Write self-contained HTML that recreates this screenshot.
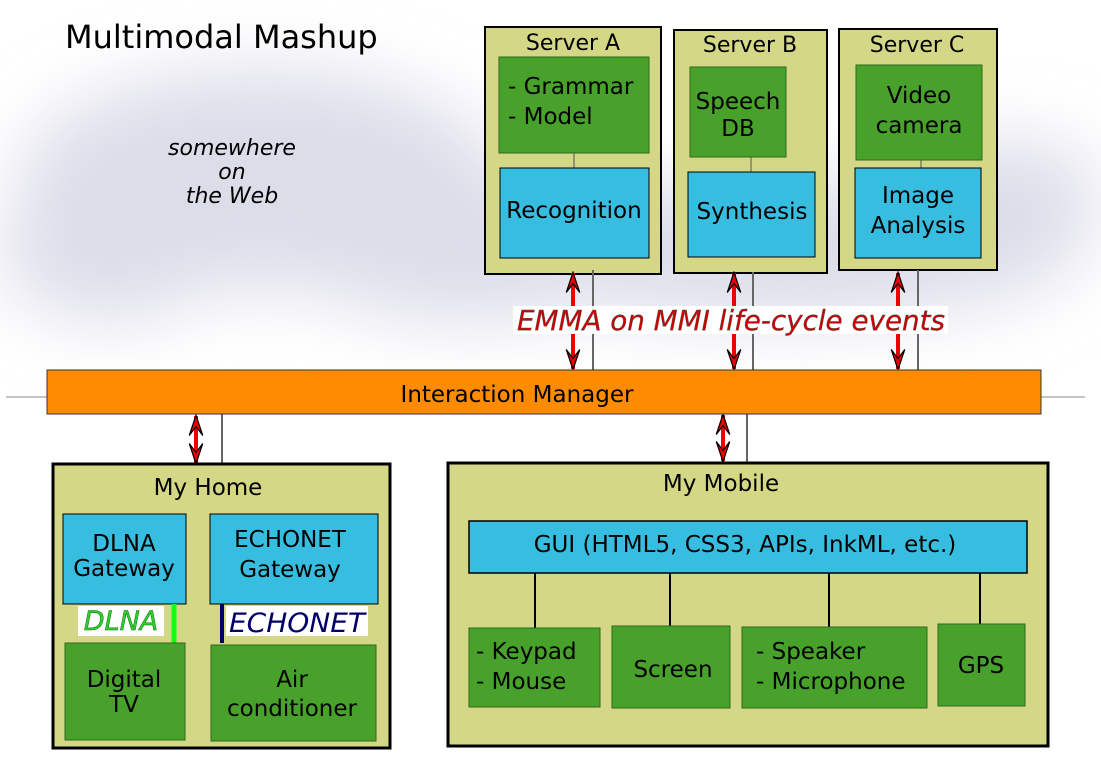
<!DOCTYPE html>
<html><head><meta charset="utf-8"><style>
html,body{margin:0;padding:0;background:#fff}
svg{display:block}
text{font-family:"DejaVu Sans","Liberation Sans",sans-serif}
</style></head><body>
<svg width="1101" height="767" viewBox="0 0 1101 767" xmlns="http://www.w3.org/2000/svg">
<defs>
<filter id="b" x="-50%" y="-50%" width="200%" height="200%"><feGaussianBlur stdDeviation="35"/></filter>
<marker id="ah" viewBox="0 0 14 10" refX="13" refY="5" markerWidth="22" markerHeight="15" orient="auto-start-reverse" markerUnits="userSpaceOnUse">
<path d="M0,0.5 L13.5,5 L0,9.5 L6,5 z" fill="#e00" stroke="#000" stroke-width="0.8" stroke-linejoin="miter"/></marker>
</defs>
<g filter="url(#b)" fill="#dcdde9">
<ellipse cx="260" cy="180" rx="240" ry="110"/>
<ellipse cx="470" cy="250" rx="180" ry="70"/>
<ellipse cx="780" cy="250" rx="300" ry="70"/>
<ellipse cx="1010" cy="200" rx="90" ry="60"/>
<ellipse cx="110" cy="250" rx="110" ry="70"/>
</g>
<text x="65" y="48" font-size="32">Multimodal Mashup</text>
<g font-size="22" font-style="italic" text-anchor="middle"><text x="232" y="155">somewhere</text><text x="232" y="179">on</text><text x="232" y="203">the Web</text></g>

<g stroke="#000" stroke-width="2" fill="#d4d785">
<rect x="485" y="27" width="176" height="247"/>
<rect x="674" y="30" width="153" height="243"/>
<rect x="839" y="29" width="158" height="241"/>
</g>
<g font-size="22" text-anchor="middle"><text x="573" y="50">Server A</text><text x="750" y="52">Server B</text><text x="917" y="52">Server C</text></g>
<g stroke="#555" stroke-width="1">
<line x1="574" y1="153" x2="574" y2="168"/><line x1="751" y1="157" x2="751" y2="172"/><line x1="921" y1="160" x2="921" y2="168"/>
</g>
<g fill="#47a12a" stroke="#2e6a1a" stroke-width="1">
<rect x="499" y="57" width="150" height="96"/><rect x="690" y="67" width="96" height="90"/><rect x="856" y="65" width="126" height="95"/>
</g>
<g fill="#37bde0" stroke="#000" stroke-width="1">
<rect x="500" y="168" width="149" height="90"/><rect x="688" y="172" width="127" height="85"/><rect x="855" y="168" width="126" height="90"/>
</g>
<g font-size="23">
<text x="508" y="94">- Grammar</text><text x="508" y="124">- Model</text>
<text x="738" y="109" text-anchor="middle">Speech</text><text x="738" y="136" text-anchor="middle">DB</text>
<text x="919" y="103" text-anchor="middle">Video</text><text x="919" y="133" text-anchor="middle">camera</text>
<text x="574" y="218" text-anchor="middle">Recognition</text>
<text x="752" y="219" text-anchor="middle">Synthesis</text>
<text x="918" y="203" text-anchor="middle">Image</text><text x="918" y="233" text-anchor="middle">Analysis</text>
</g>

<line x1="6" y1="397" x2="1085" y2="397" stroke="#888" stroke-width="1"/>
<g stroke="#666" stroke-width="2">
<line x1="593" y1="270" x2="593" y2="370"/><line x1="753" y1="272" x2="753" y2="370"/><line x1="918" y1="270" x2="918" y2="370"/>
<line x1="222" y1="414" x2="222" y2="464"/><line x1="747" y1="414" x2="747" y2="462"/>
</g>
<g stroke="#e00" stroke-width="4" marker-start="url(#ah)" marker-end="url(#ah)">
<line x1="573" y1="273" x2="573" y2="369"/><line x1="734" y1="273" x2="734" y2="369"/><line x1="898" y1="273" x2="898" y2="369"/>
<line x1="196" y1="416" x2="196" y2="463"/><line x1="723" y1="415" x2="723" y2="461"/>
</g>
<rect x="513" y="306" width="435" height="28" fill="#fff"/>
<text x="731" y="330" font-size="28" font-style="italic" fill="#c00" stroke="#555" stroke-width="0.4" text-anchor="middle" textLength="428" lengthAdjust="spacingAndGlyphs">EMMA on MMI life-cycle events</text>

<rect x="47" y="370" width="994" height="44" fill="#ff8c00" stroke="#333" stroke-width="1"/>
<text x="517" y="402" font-size="23" text-anchor="middle">Interaction Manager</text>

<rect x="53" y="464" width="337" height="284" fill="#d4d785" stroke="#000" stroke-width="3"/>
<text x="208" y="495" font-size="23" text-anchor="middle">My Home</text>
<g fill="#37bde0" stroke="#000" stroke-width="1">
<rect x="63" y="514" width="123" height="90"/><rect x="210" y="514" width="168" height="90"/>
</g>
<g font-size="23" text-anchor="middle">
<text x="124" y="551">DLNA</text><text x="124" y="576">Gateway</text>
<text x="290" y="547">ECHONET</text><text x="290" y="577">Gateway</text>
</g>
<rect x="78" y="606" width="86" height="30" fill="#fff"/>
<rect x="226" y="606" width="142" height="30" fill="#fff"/>
<line x1="174" y1="604" x2="174" y2="643" stroke="#1f1" stroke-width="5"/>
<line x1="222" y1="604" x2="222" y2="643" stroke="#006" stroke-width="4"/>
<text x="121" y="630" font-size="27" font-style="italic" fill="#3c3" stroke="#070" stroke-width="0.5" text-anchor="middle">DLNA</text>
<text x="297" y="632" font-size="27" font-style="italic" fill="#006" text-anchor="middle" textLength="136" lengthAdjust="spacingAndGlyphs">ECHONET</text>
<g fill="#47a12a" stroke="#2e6a1a" stroke-width="1">
<rect x="65" y="643" width="120" height="97"/><rect x="211" y="645" width="165" height="96"/>
</g>
<g font-size="23" text-anchor="middle">
<text x="124" y="687">Digital</text><text x="124" y="712">TV</text>
<text x="292" y="687">Air</text><text x="292" y="716">conditioner</text>
</g>

<rect x="448" y="463" width="600" height="283" fill="#d4d785" stroke="#000" stroke-width="3"/>
<text x="721" y="491" font-size="23" text-anchor="middle">My Mobile</text>
<g stroke="#000" stroke-width="2">
<line x1="535" y1="573" x2="535" y2="628"/><line x1="670" y1="573" x2="670" y2="626"/><line x1="829" y1="573" x2="829" y2="627"/><line x1="980" y1="573" x2="980" y2="624"/>
</g>
<rect x="469" y="521" width="558" height="52" fill="#37bde0" stroke="#000" stroke-width="1.5"/>
<text x="745" y="552" font-size="23" text-anchor="middle">GUI (HTML5, CSS3, APIs, InkML, etc.)</text>
<g fill="#47a12a" stroke="#2e6a1a" stroke-width="1">
<rect x="469" y="628" width="131" height="79"/><rect x="612" y="626" width="118" height="82"/><rect x="742" y="627" width="185" height="81"/><rect x="938" y="624" width="87" height="82"/>
</g>
<g font-size="23">
<text x="476" y="659">- Keypad</text><text x="476" y="689">- Mouse</text>
<text x="673" y="677" text-anchor="middle">Screen</text>
<text x="756" y="659">- Speaker</text><text x="756" y="689">- Microphone</text>
<text x="981" y="673" text-anchor="middle">GPS</text>
</g>
</svg>
</body></html>
